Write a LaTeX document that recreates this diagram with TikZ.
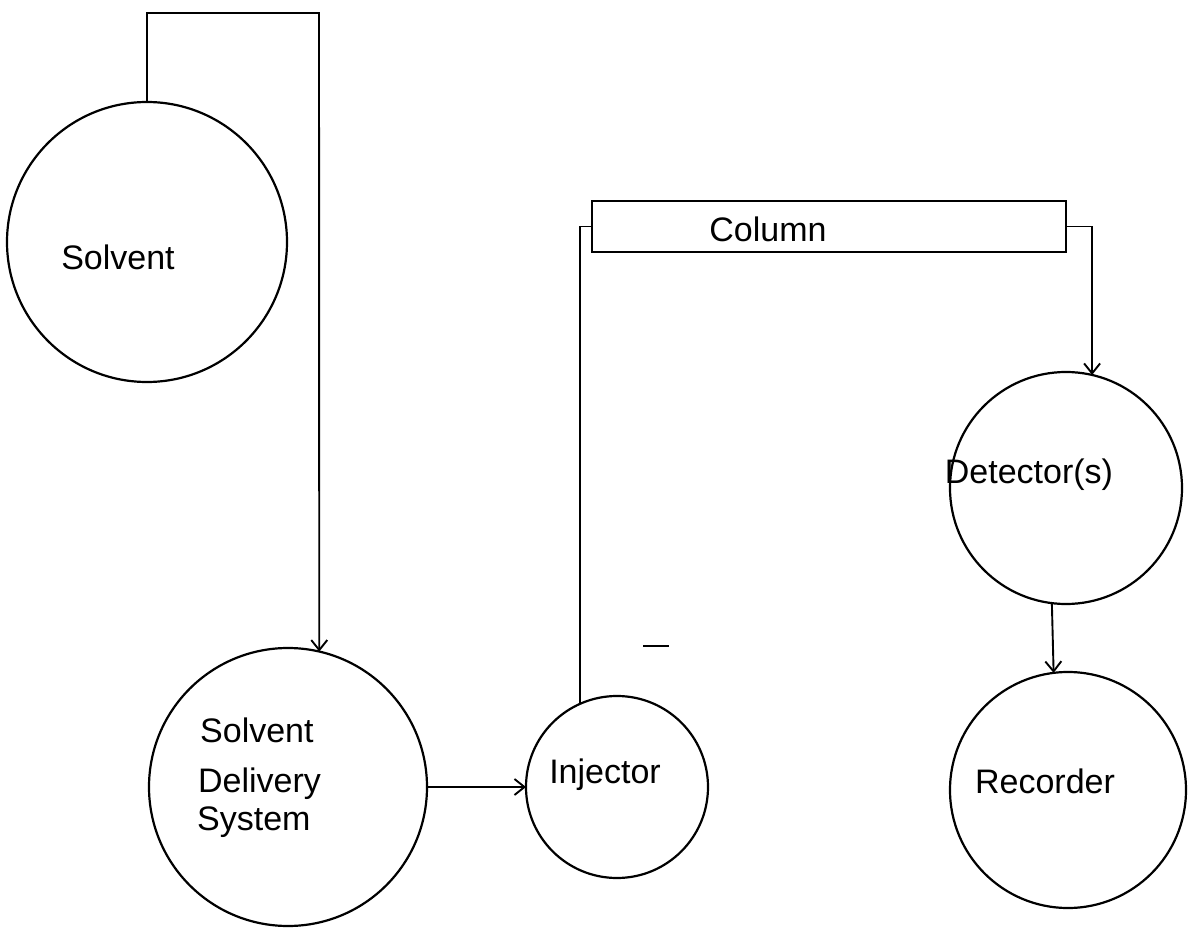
\documentclass[tikz,border=0pt]{standalone}
\usepackage{fontspec}
\setmainfont{Liberation Sans}
\usetikzlibrary{arrows.meta}
\begin{document}
\begin{tikzpicture}[x=1pt,y=-1pt,
  unit/.style={circle,draw,line width=2.2pt,inner sep=0pt,outer sep=0pt,minimum size=#1},
  lbl/.style={font=\fontsize{34}{40}\selectfont,inner sep=0pt,anchor=base},
  lblw/.style={font=\fontsize{34}{40}\selectfont,inner sep=0pt,anchor=base west},
  flow/.style={line width=1.9pt},
  flowarrow/.style={flow,-{Straight Barb[length=10pt,width=16pt,line width=1.9pt]}}]
\useasboundingbox (0,0) rectangle (1195,928);
% units
\node[unit=280pt] (solvent) at (147,242) {};
\node[unit=278pt] (sds) at (288,787) {};
\node[unit=182pt] (inj) at (617,787) {};
\node[unit=232pt] (det) at (1066,488) {};
\node[unit=236pt] (rec) at (1068,790) {};
\node[draw,line width=1.9pt,inner sep=0pt,outer sep=0pt,minimum width=474pt,minimum height=51pt] (col) at (829,226.5) {};
% labels
\node[lbl] (solventtxt) at (118,270) {Solvent};
\node[lblw] (sds1) at (200,742) {Solvent};
\node[lblw] (sds2) at (198,792) {Delivery};
\node[lblw] (sds3) at (197,830) {System};
\node[lbl] (injtxt) at (605,783) {Injector};
\node[lbl] (coltxt) at (768,242) {Column};
\node[lbl] (dettxt) at (1029,483) {Detector(s)};
\node[lbl] (rectxt) at (1045,793) {Recorder};
% connectors
\coordinate (c2) at (319,13);
\draw[flowarrow] (solvent.north) |- (c2) -- (sds.77);
\draw[flowarrow] (sds.east) -- (inj.west);
\draw[flow] (inj.114) |- (col.west);
\draw[flowarrow] (col.east) -| (det.77);
\draw[flowarrow] (det.263) -- (rec.97);
% stray mark
\coordinate (d1) at (643,646);
\coordinate (d2) at (669,646);
\draw[flow] (d1) -- (d2);
\end{tikzpicture}
\end{document}
